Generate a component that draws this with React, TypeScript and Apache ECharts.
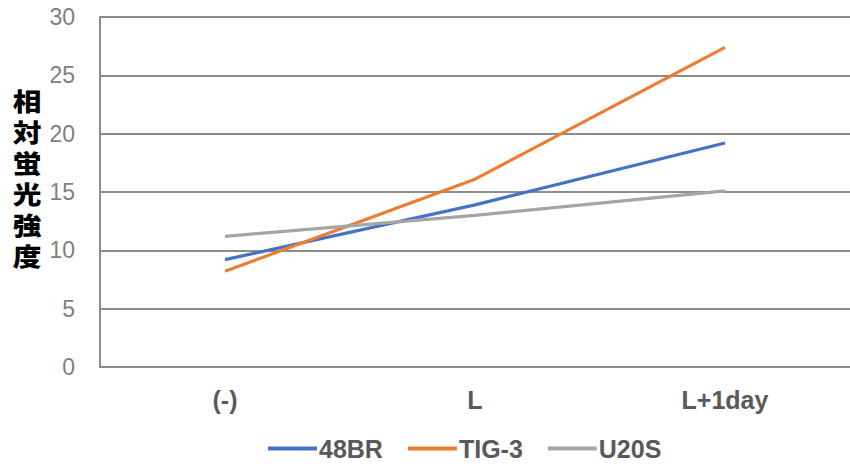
import React, { useEffect, useRef } from "react";
import * as echarts from "echarts";

const categories = ["(-)", "L", "L+1day"];
const series48BR = [9.2, 13.9, 19.2];
const seriesTIG3 = [8.2, 16.1, 27.4];
const seriesU20S = [11.2, 13.0, 15.1];
const yTicks = [0, 5, 10, 15, 20, 25, 30];
const yTitle = "相対蛍光強度";

const FONT = "'Liberation Sans', Arial, sans-serif";

export default function App() {
  const ref = useRef<HTMLDivElement>(null);

  useEffect(() => {
    if (!ref.current) return;
    const chart = echarts.init(ref.current, undefined, { renderer: "svg" });
    const lineSeries = (name: string, data: number[], color: string) => ({
      name,
      type: "line",
      data,
      symbol: "none",
      lineStyle: { color, width: 3.2 },
      itemStyle: { color },
    });
    // vertical axis title, one glyph per row, slightly widened
    const titleChars = yTitle.split("").map((ch, i) => ({
      type: "text",
      x: 27,
      y: 88 + i * 31,
      scaleX: 1.15,
      style: {
        text: ch,
        fill: "#000000",
        font: "900 25px 'Noto Sans CJK JP', sans-serif",
        lineHeight: 25,
        align: "center",
        verticalAlign: "top",
      },
    }));
    chart.setOption({
      animation: false,
      backgroundColor: "#ffffff",
      grid: { left: 100, right: -10, top: 17, bottom: 100, containLabel: false },
      xAxis: {
        type: "category",
        data: categories,
        boundaryGap: true,
        axisLine: { lineStyle: { color: "#8c8c8c", width: 2 } },
        axisTick: { show: false },
        axisLabel: {
          color: "#595959",
          fontFamily: FONT,
          fontWeight: "bold",
          fontSize: 25,
          margin: 20,
        },
      },
      yAxis: {
        type: "value",
        min: yTicks[0],
        max: yTicks[yTicks.length - 1],
        interval: 5,
        axisLine: { show: true, lineStyle: { color: "#8c8c8c", width: 2 } },
        axisTick: { show: false },
        splitLine: { lineStyle: { color: "#8c8c8c", width: 2 } },
        axisLabel: {
          color: "#7f7f7f",
          fontFamily: FONT,
          fontSize: 23,
          margin: 25,
        },
      },
      legend: {
        bottom: 1,
        left: 263,
        itemWidth: 49,
        itemHeight: 4,
        itemGap: 25,
        icon: "rect",
        textStyle: {
          color: "#595959",
          fontFamily: FONT,
          fontWeight: "bold",
          fontSize: 25,
          padding: [0, 0, 0, -3],
        },
        data: ["48BR", "TIG-3", "U20S"],
      },
      graphic: [{ type: "group", children: titleChars }],
      series: [
        lineSeries("48BR", series48BR, "#4472c4"),
        lineSeries("TIG-3", seriesTIG3, "#ed7d31"),
        lineSeries("U20S", seriesU20S, "#a5a5a5"),
      ],
    });
    return () => chart.dispose();
  }, []);

  return (
    <div
      ref={ref}
      style={{ position: "fixed", left: 0, top: 0, width: 850, height: 467 }}
    />
  );
}
